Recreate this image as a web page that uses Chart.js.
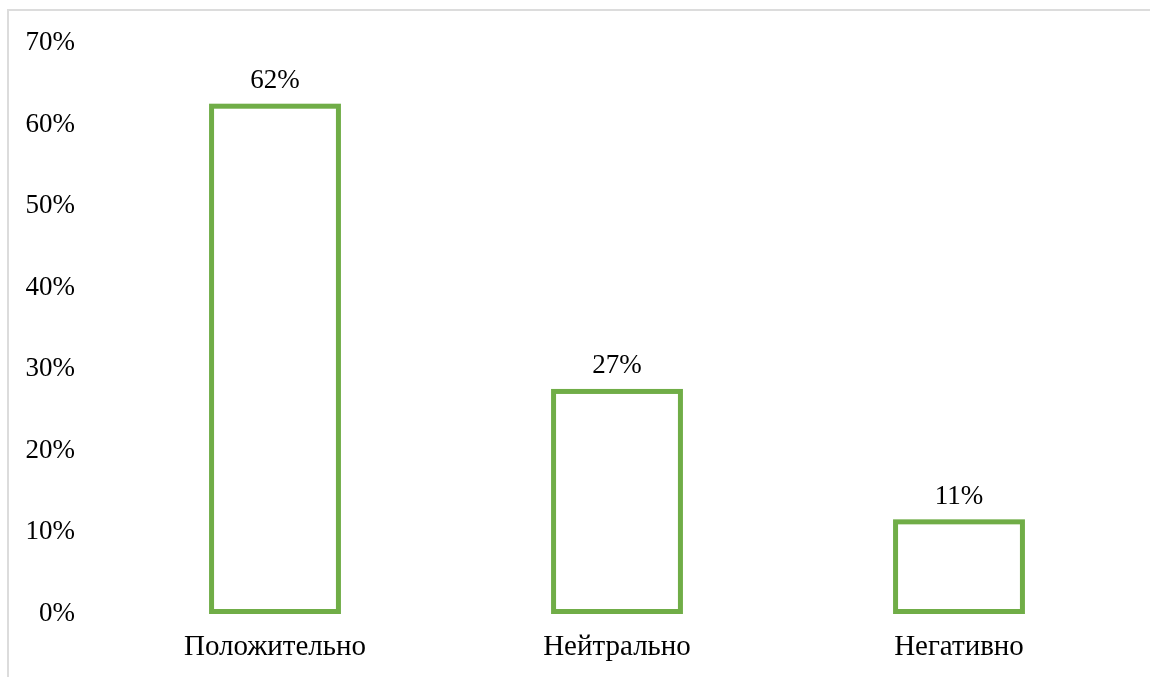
<!DOCTYPE html>
<html>
<head>
<meta charset="utf-8">
<script src="https://cdn.jsdelivr.net/npm/chart.js@4/dist/chart.umd.min.js"></script>
<style>
html,body{margin:0;padding:0;background:#fff;}
#wrap{position:relative;width:1150px;height:677px;}
#frame{position:absolute;left:7px;top:9px;right:0;bottom:0;border-top:2px solid #dcdcdc;border-left:2px solid #dcdcdc;pointer-events:none;}
canvas{position:absolute;left:0;top:0;}
</style>
</head>
<body>
<div id="wrap">
<canvas id="c" width="1150" height="677"></canvas>
<div id="frame"></div>
</div>
<script>
const categories = ["Положительно", "Нейтрально", "Негативно"];
const values = [62, 27, 11];
const valueLabels = ["62%", "27%", "11%"];
const yTicks = [0, 10, 20, 30, 40, 50, 60, 70];

const FONT = "'Liberation Serif', 'Times New Roman', serif";

const outlinePlugin = {
  id: 'outlines',
  afterDatasetsDraw(chart) {
    const ctx = chart.ctx;
    const meta = chart.getDatasetMeta(0);
    ctx.save();
    ctx.strokeStyle = '#70AD47';
    ctx.lineWidth = 5;
    ctx.lineJoin = 'miter';
    meta.data.forEach((bar) => {
      const p = bar.getProps(['x', 'y', 'base', 'width'], true);
      ctx.strokeRect(p.x - p.width / 2, p.y, p.width, p.base - p.y);
    });
    ctx.font = "27px " + FONT;
    ctx.fillStyle = "#000";
    ctx.textAlign = "center";
    ctx.textBaseline = "alphabetic";
    meta.data.forEach((bar, i) => {
      ctx.fillText(valueLabels[i], bar.x, bar.y - 18);
    });
    ctx.restore();
  }
};

new Chart(document.getElementById('c'), {
  type: 'bar',
  data: {
    labels: categories,
    datasets: [{
      data: values,
      backgroundColor: 'rgba(255,255,255,0)',
      borderColor: '#70AD47',
      borderWidth: 0,
      barPercentage: 0.371,
      categoryPercentage: 1.0
    }]
  },
  options: {
    responsive: false,
    animation: false,
    layout: { padding: { left: 0, right: 20, top: 41, bottom: 0 } },
    plugins: { legend: { display: false }, tooltip: { enabled: false } },
    scales: {
      x: {
        grid: { display: false, drawTicks: false },
        border: { display: false },
        ticks: { color: '#000', font: { family: FONT, size: 29 }, padding: 18, maxRotation: 0 },
        afterFit(scale) { scale.height = 65.5; scale.paddingLeft = 0; scale.paddingRight = 0; }
      },
      y: {
        min: 0, max: 70,
        grid: { display: false, drawTicks: false },
        border: { display: false },
        afterBuildTicks(scale) { scale.ticks = yTicks.map(v => ({ value: v })); },
        ticks: { color: '#000', font: { family: FONT, size: 27 }, padding: 29, labelOffset: 2,
          callback: (v) => v + '%' },
        afterFit(scale) { scale.width = 104; scale.paddingTop = 0; scale.paddingBottom = 0; }
      }
    }
  },
  plugins: [outlinePlugin]
});
</script>
</body>
</html>
